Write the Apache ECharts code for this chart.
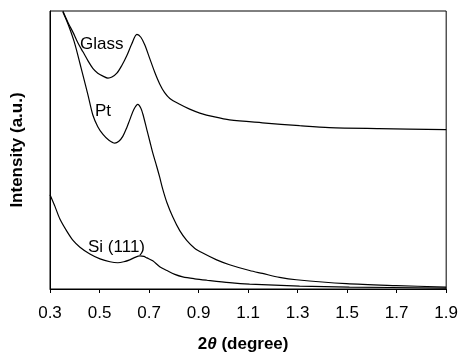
<!DOCTYPE html>
<html>
<head>
<meta charset="utf-8">
<script src="https://cdn.jsdelivr.net/npm/echarts@6/dist/echarts.min.js"></script>
<style>html,body{margin:0;padding:0;background:#fff}#c{width:461px;height:358px}</style>
</head>
<body>
<div id="c"></div>
<script>
var xTicks = [0.3, 0.5, 0.7, 0.9, 1.1, 1.3, 1.5, 1.7, 1.9];
var glassX = [0.352,0.373,0.393,0.413,0.433,0.453,0.473,0.493,0.514,0.534,0.550,0.570,0.590,0.610,0.630,0.651,0.667,0.683,0.703,0.723,0.743,0.763,0.784,0.824,0.864,0.905,0.965,1.025,1.158,1.308,1.428,1.630,1.9];
var glassY = [286,274,264,253,244,235,227,222,219,217,218,222,230,240,252,262,259,251,237,223,211,202,196,190,185,181,177,174,171,168,166,165,164];
var ptX = [0.352,0.369,0.381,0.397,0.409,0.421,0.433,0.453,0.473,0.493,0.514,0.538,0.562,0.578,0.594,0.610,0.622,0.639,0.655,0.667,0.675,0.691,0.703,0.715,0.731,0.743,0.755,0.772,0.796,0.824,0.852,0.884,0.917,0.973,1.025,1.106,1.158,1.227,1.295,1.497,1.698,1.9];
var ptY = [285,275,267,255,244,232,220,200,179,167,159,153,150,152,157,166,174,185,190,186,180,164,152,140,126,115,103,89,74,60,50,42,37,30,25,19,16,12,9.5,5.5,3.5,2];
var siX = [0.3,0.320,0.340,0.369,0.393,0.421,0.461,0.502,0.542,0.574,0.598,0.622,0.643,0.663,0.679,0.691,0.715,0.743,0.772,0.804,0.836,0.884,0.933,1.025,1.106,1.308,1.509,1.9];
var siY = [97,85,72,59,50,43,36,31,28,27,28,30,32.5,34,33.5,32,29,23,19,15,12.5,10.5,9,6.5,5,3,2,1];
var seriesNames = ['Glass', 'Pt', 'Si (111)'];

function pairs(xs, ys) { return xs.map(function (x, i) { return [x, ys[i]]; }); }
var FONT = 'Arial, "Liberation Sans", sans-serif';
var chart = echarts.init(document.getElementById('c'));
var lineSeries = [[glassX, glassY], [ptX, ptY], [siX, siY]].map(function (d, i) {
  return {
    name: seriesNames[i], type: 'line', data: pairs(d[0], d[1]),
    smooth: 0.3, showSymbol: false, symbol: 'none', clip: true,
    lineStyle: { color: '#000', width: 1.2 }
  };
});
chart.setOption({
  animation: false,
  backgroundColor: '#fff',
  grid: { left: 50, right: 14, top: 11, bottom: 61, show: true, borderColor: '#000', borderWidth: 1, backgroundColor: 'transparent' },
  xAxis: {
    type: 'value', min: 0.3, max: 1.9, interval: 0.2,
    axisLine: { show: true, lineStyle: { color: '#000', width: 1 } },
    axisTick: { show: true, inside: false, length: 4, lineStyle: { color: '#000' } },
    splitLine: { show: false },
    axisLabel: { margin: 16, color: '#000', fontSize: 17, fontFamily: FONT,
      formatter: function (v) { return v.toFixed(1); } },
    name: '{b|2}{i|θ}{b| (degree)}', nameLocation: 'middle', nameGap: 47,
    nameTextStyle: { padding: [0, 10, 0, 0], rich: {
      b: { fontSize: 17, fontWeight: 'bold', fontFamily: FONT, color: '#000' },
      i: { fontSize: 17, fontWeight: 'bold', fontStyle: 'italic', fontFamily: FONT, color: '#000' } } }
  },
  yAxis: {
    type: 'value', min: 0, max: 286,
    axisLine: { show: true, lineStyle: { color: '#000', width: 1 } },
    axisTick: { show: false }, axisLabel: { show: false }, splitLine: { show: false },
    name: 'Intensity (a.u.)', nameLocation: 'middle', nameGap: 24,
    nameTextStyle: { fontSize: 17, fontWeight: 'bold', fontFamily: FONT, color: '#000' }
  },
  graphic: [
    { type: 'text', left: 80, top: 36, style: { text: seriesNames[0], font: '17px ' + FONT, fill: '#000' } },
    { type: 'text', left: 95, top: 103, style: { text: seriesNames[1], font: '17px ' + FONT, fill: '#000' } },
    { type: 'text', left: 88, top: 239, style: { text: seriesNames[2], font: '17px ' + FONT, fill: '#000' } }
  ],
  series: lineSeries
});
</script>
</body>
</html>
